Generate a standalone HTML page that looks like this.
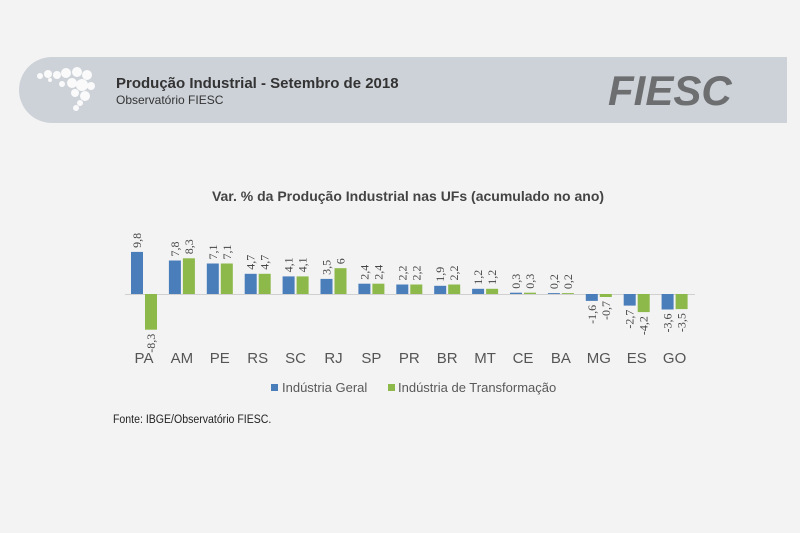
<!DOCTYPE html>
<html><head><meta charset="utf-8"><style>
body{margin:0;background:#f3f3f3;}
svg{display:block}
.v{font-family:"Liberation Serif",serif;font-size:12px;fill:#444}
.c{font-size:15px;fill:#555;text-anchor:middle}
</style></head><body>
<svg width="800" height="533" xmlns="http://www.w3.org/2000/svg" font-family="Liberation Sans, sans-serif">
<rect width="800" height="533" fill="#f3f3f3"/>
<path d="M52,57 H787 V123 H52 A33,33 0 0 1 52,57 Z" fill="#cdd2d8"/>
<g fill="#fff" opacity="0.9">
<circle cx="40" cy="76" r="3"/><circle cx="48" cy="74" r="4"/><circle cx="57" cy="75" r="4"/><circle cx="66" cy="73" r="5"/><circle cx="77" cy="72" r="5"/><circle cx="87" cy="75" r="5"/><circle cx="72" cy="83" r="5"/><circle cx="82" cy="85" r="6"/><circle cx="91" cy="86" r="4"/><circle cx="62" cy="84" r="3"/><circle cx="75" cy="93" r="4"/><circle cx="85" cy="96" r="5"/><circle cx="80" cy="103" r="3"/><circle cx="76" cy="108" r="3"/><circle cx="50" cy="80" r="2"/>
</g>
<text x="116" y="88" font-size="15" font-weight="bold" fill="#333">Produção Industrial - Setembro de 2018</text>
<text x="116" y="104" font-size="12" fill="#333">Observatório FIESC</text>
<text x="608" y="105" font-size="42" font-weight="bold" font-style="italic" fill="#6d6e70">FIESC</text>
<text x="408" y="201" font-size="14" font-weight="bold" fill="#444" text-anchor="middle">Var. % da Produção Industrial nas UFs (acumulado no ano)</text>
<line x1="125" y1="294.5" x2="695" y2="294.5" stroke="#d0d0d0" stroke-width="1"/>
<g fill="#4a7ebb">
<rect x="131" y="251.9" width="12" height="42.1"/>
<rect x="168.9" y="260.5" width="12" height="33.5"/>
<rect x="206.8" y="263.5" width="12" height="30.5"/>
<rect x="244.7" y="273.8" width="12" height="20.2"/>
<rect x="282.6" y="276.4" width="12" height="17.6"/>
<rect x="320.5" y="278.9" width="12" height="15.1"/>
<rect x="358.4" y="283.7" width="12" height="10.3"/>
<rect x="396.3" y="284.5" width="12" height="9.5"/>
<rect x="434.2" y="285.8" width="12" height="8.2"/>
<rect x="472.1" y="288.8" width="12" height="5.2"/>
<rect x="510" y="292.7" width="12" height="1.3"/>
<rect x="547.9" y="293.1" width="12" height="0.9"/>
<rect x="585.8" y="294" width="12" height="6.9"/>
<rect x="623.7" y="294" width="12" height="11.6"/>
<rect x="661.6" y="294" width="12" height="15.5"/>
</g>
<g fill="#8db84a">
<rect x="145" y="294" width="12" height="35.7"/>
<rect x="182.9" y="258.3" width="12" height="35.7"/>
<rect x="220.8" y="263.5" width="12" height="30.5"/>
<rect x="258.7" y="273.8" width="12" height="20.2"/>
<rect x="296.6" y="276.4" width="12" height="17.6"/>
<rect x="334.5" y="268.2" width="12" height="25.8"/>
<rect x="372.4" y="283.7" width="12" height="10.3"/>
<rect x="410.3" y="284.5" width="12" height="9.5"/>
<rect x="448.2" y="284.5" width="12" height="9.5"/>
<rect x="486.1" y="288.8" width="12" height="5.2"/>
<rect x="524" y="292.7" width="12" height="1.3"/>
<rect x="561.9" y="293.1" width="12" height="0.9"/>
<rect x="599.8" y="294" width="12" height="3"/>
<rect x="637.7" y="294" width="12" height="18.1"/>
<rect x="675.6" y="294" width="12" height="15.1"/>
</g>
<g class="v">
<text transform="translate(141 247.9) rotate(-90)">9,8</text>
<text transform="translate(178.9 256.5) rotate(-90)">7,8</text>
<text transform="translate(216.8 259.5) rotate(-90)">7,1</text>
<text transform="translate(254.7 269.8) rotate(-90)">4,7</text>
<text transform="translate(292.6 272.4) rotate(-90)">4,1</text>
<text transform="translate(330.5 274.9) rotate(-90)">3,5</text>
<text transform="translate(368.4 279.7) rotate(-90)">2,4</text>
<text transform="translate(406.3 280.5) rotate(-90)">2,2</text>
<text transform="translate(444.2 281.8) rotate(-90)">1,9</text>
<text transform="translate(482.1 284.8) rotate(-90)">1,2</text>
<text transform="translate(520 288.7) rotate(-90)">0,3</text>
<text transform="translate(557.9 289.1) rotate(-90)">0,2</text>
<text text-anchor="end" transform="translate(595.8 304.9) rotate(-90)">-1,6</text>
<text text-anchor="end" transform="translate(633.7 309.6) rotate(-90)">-2,7</text>
<text text-anchor="end" transform="translate(671.6 313.5) rotate(-90)">-3,6</text>
<text text-anchor="end" transform="translate(155 333.7) rotate(-90)">-8,3</text>
<text transform="translate(192.9 254.3) rotate(-90)">8,3</text>
<text transform="translate(230.8 259.5) rotate(-90)">7,1</text>
<text transform="translate(268.7 269.8) rotate(-90)">4,7</text>
<text transform="translate(306.6 272.4) rotate(-90)">4,1</text>
<text transform="translate(344.5 264.2) rotate(-90)">6</text>
<text transform="translate(382.4 279.7) rotate(-90)">2,4</text>
<text transform="translate(420.3 280.5) rotate(-90)">2,2</text>
<text transform="translate(458.2 280.5) rotate(-90)">2,2</text>
<text transform="translate(496.1 284.8) rotate(-90)">1,2</text>
<text transform="translate(534 288.7) rotate(-90)">0,3</text>
<text transform="translate(571.9 289.1) rotate(-90)">0,2</text>
<text text-anchor="end" transform="translate(609.8 301) rotate(-90)">-0,7</text>
<text text-anchor="end" transform="translate(647.7 316.1) rotate(-90)">-4,2</text>
<text text-anchor="end" transform="translate(685.6 313.1) rotate(-90)">-3,5</text>
</g>
<g class="c">
<text x="144" y="363">PA</text><text x="181.9" y="363">AM</text><text x="219.8" y="363">PE</text><text x="257.7" y="363">RS</text><text x="295.6" y="363">SC</text><text x="333.5" y="363">RJ</text><text x="371.4" y="363">SP</text><text x="409.3" y="363">PR</text><text x="447.2" y="363">BR</text><text x="485.1" y="363">MT</text><text x="523" y="363">CE</text><text x="560.9" y="363">BA</text><text x="598.8" y="363">MG</text><text x="636.7" y="363">ES</text><text x="674.6" y="363">GO</text>
</g>
<rect x="271" y="384" width="7" height="7" fill="#4a7ebb"/>
<text x="282" y="392" font-size="13" fill="#595959">Indústria Geral</text>
<rect x="388" y="384" width="7" height="7" fill="#8db84a"/>
<text x="398" y="392" font-size="13" fill="#595959">Indústria de Transformação</text>
<text x="113" y="423" font-size="12" fill="#222" transform="translate(113 0) scale(0.88 1) translate(-113 0)">Fonte: IBGE/Observatório FIESC.</text>
</svg>
</body></html>
